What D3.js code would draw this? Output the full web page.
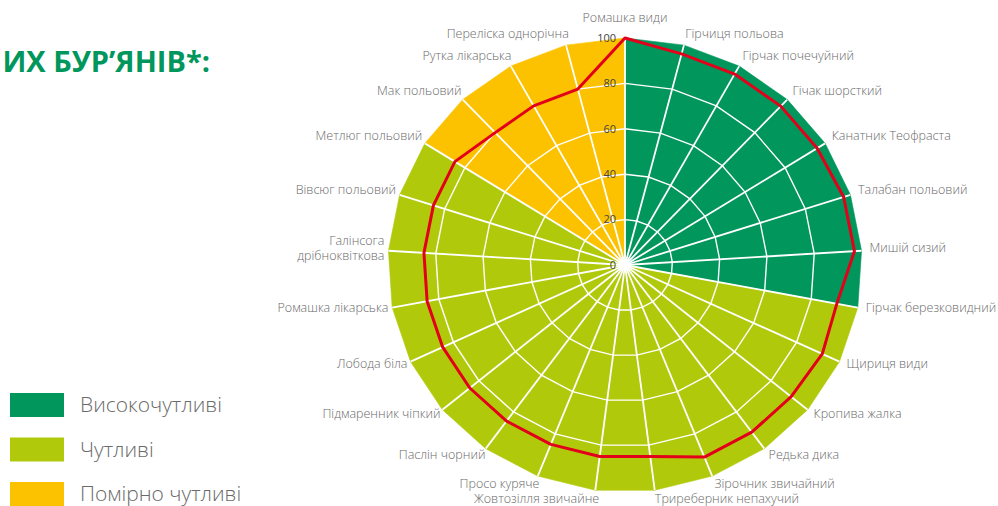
<!DOCTYPE html>
<html>
<head>
<meta charset="utf-8">
<script src="https://cdn.jsdelivr.net/npm/d3@7"></script>
<style>
  html, body { margin: 0; padding: 0; background: #fff; }
  svg { display: block; }
</style>
</head>
<body>
<svg id="chart" width="998" height="506"></svg>
<script>
const categories = [
  "Ромашка види", "Гірчиця польова", "Гірчак почечуйний", "Гічак шорсткий",
  "Канатник Теофраста", "Талабан польовий", "Мишій сизий", "Гірчак березковидний",
  "Щириця види", "Кропива жалка", "Редька дика", "Зірочник звичайний",
  "Триреберник непахучий", "Жовтозілля звичайне", "Просо куряче", "Паслін чорний",
  "Підмаренник чіпкий", "Лобода біла", "Ромашка лікарська", "Галінсога\nдрібноквіткова",
  "Вівсюг польовий", "Метлюг польовий", "Мак польовий", "Рутка лікарська",
  "Переліска однорічна"
];
const values = [100, 96, 96, 96, 96, 97, 97, 91, 92, 91, 91, 91, 85, 85, 85, 85, 85, 85, 85, 85, 85, 85, 80, 80, 80];
// sensitivity group of each sector (sector i lies between spoke i and spoke i+1)
const sectorGroup = [0,0,0,0,0,0,0, 1,1,1,1,1,1,1,1,1,1,1,1,1,1, 2,2,2,2];
const groupNames = ["Високочутливі", "Чутливі", "Помірно чутливі"];
const groupColors = ["#00965c", "#b0ca0b", "#fcc200"];
const tickValues = [0, 20, 40, 60, 80, 100];
const titleText = "ИХ БУР’ЯНІВ*:";

const svg = d3.select("#chart");
const cx = 625, cy = 265;
const N = categories.length;

const angle = d3.scaleLinear().domain([0, N]).range([0, 2 * Math.PI]);
const rX = d3.scaleLinear().domain([0, 100]).range([0, 237]);
const rY = d3.scaleLinear().domain([0, 100]).range([0, 227]);
const pt = (i, v) => [cx + rX(v) * Math.sin(angle(i)), cy - rY(v) * Math.cos(angle(i))];

const font = "'Open Sans', 'Noto Sans', sans-serif";

// title (cropped at left edge)
svg.append("text")
  .attr("x", 210).attr("y", 72)
  .attr("text-anchor", "end")
  .attr("font-family", font)
  .attr("font-weight", 700)
  .attr("font-size", 29)
  .attr("fill", "#00965c")
  .text(titleText);

// sectors
const g = svg.append("g");
g.selectAll("path.sector")
  .data(d3.range(N))
  .join("path")
  .attr("class", "sector")
  .attr("d", i => "M" + [cx, cy] + "L" + pt(i, 100) + "L" + pt(i + 1, 100) + "Z")
  .attr("fill", i => groupColors[sectorGroup[i]])
  .attr("stroke", i => groupColors[sectorGroup[i]])
  .attr("stroke-width", 0.6);

// grid rings
const line = d3.line();
g.selectAll("path.ring")
  .data(tickValues.filter(t => t > 0 && t < 100))
  .join("path")
  .attr("class", "ring")
  .attr("d", t => line(d3.range(N).map(i => pt(i, t))) + "Z")
  .attr("fill", "none")
  .attr("stroke", "#fff")
  .attr("stroke-width", 1.4);

// spokes
g.selectAll("line.spoke")
  .data(d3.range(N))
  .join("line")
  .attr("class", "spoke")
  .attr("x1", cx).attr("y1", cy)
  .attr("x2", i => pt(i, 100)[0])
  .attr("y2", i => pt(i, 100)[1])
  .attr("stroke", "#fff")
  .attr("stroke-width", 1.8);

g.append("circle").attr("cx", cx).attr("cy", cy).attr("r", 5).attr("fill", "#fff");

// series line
g.append("path")
  .attr("d", line(values.map((v, i) => pt(i, v))) + "Z")
  .attr("fill", "none")
  .attr("stroke", "#e2001a")
  .attr("stroke-width", 3)
  .attr("stroke-linejoin", "round");

// tick labels
g.selectAll("text.tick")
  .data(tickValues)
  .join("text")
  .attr("class", "tick")
  .attr("x", cx - 9)
  .attr("y", t => cy - rY(t))
  .attr("dy", "0.35em")
  .attr("text-anchor", "end")
  .attr("font-family", font)
  .attr("font-size", 11)
  .attr("fill", "#444")
  .text(t => t);

// category labels
g.selectAll("text.cat")
  .data(categories)
  .join("text")
  .attr("class", "cat")
  .attr("font-family", font)
  .attr("font-weight", 300)
  .attr("font-size", 12.5)
  .attr("fill", "#6a6a6a")
  .each(function (d, i) {
    const a = angle(i);
    const s = Math.sin(a), c = Math.cos(a);
    let x = cx + (rX(100) + 9) * s;
    let y = cy - (rY(100) + 10) * c - 2;
    let anchor = "middle";
    if (s > 0.01) { anchor = "start"; x -= 1; }
    else if (s < -0.01) { anchor = "end"; x += 5; }
    else if (c > 0) { y -= 8; }
    const t = d3.select(this).attr("text-anchor", anchor);
    const lines = d.split("\n");
    lines.forEach((ln, k) => {
      t.append("tspan")
        .attr("x", x)
        .attr("y", y + (k - (lines.length - 1) / 2) * 15)
        .attr("dy", "0.35em")
        .text(ln);
    });
  });

// legend
const leg = svg.append("g");
groupNames.forEach((name, k) => {
  const y0 = 393 + k * 44.5;
  leg.append("rect")
    .attr("x", 10).attr("y", y0)
    .attr("width", 54).attr("height", 24)
    .attr("fill", groupColors[k]);
  leg.append("text")
    .attr("x", 80).attr("y", y0 + 12)
    .attr("dy", "0.35em")
    .attr("font-family", font)
    .attr("font-weight", 300)
    .attr("font-size", 21)
    .attr("fill", "#6a6a6a")
    .text(name);
});
</script>
</body>
</html>
